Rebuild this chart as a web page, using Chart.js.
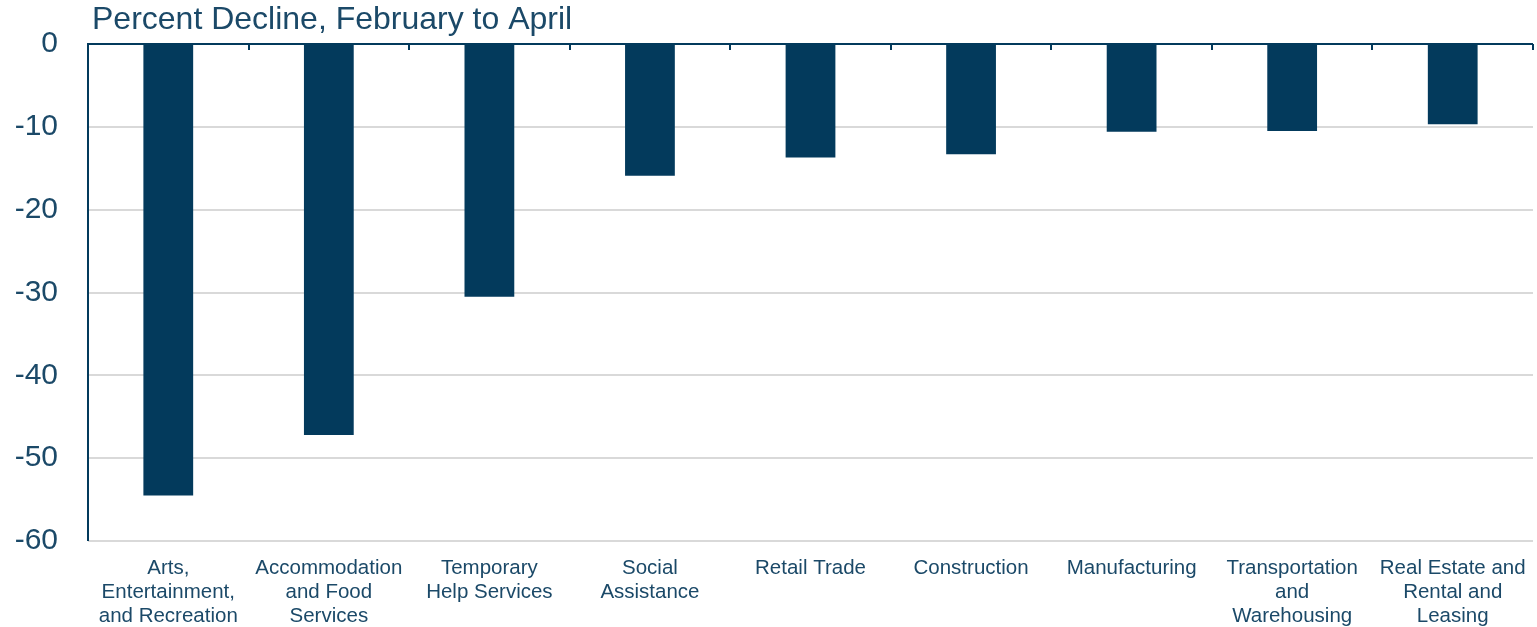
<!DOCTYPE html>
<html><head><meta charset="utf-8">
<script src="https://cdn.jsdelivr.net/npm/chart.js@4/dist/chart.umd.min.js"></script>
<style>html,body{margin:0;padding:0;background:#fff;}#wrap{width:1537px;height:627px;position:relative;}</style>
</head><body><div id="wrap"><canvas id="c"></canvas></div>
<script>
const titleText = 'Percent Decline, February to April';
const categories = [
  ['Arts,', 'Entertainment,', 'and Recreation'],
  ['Accommodation', 'and Food', 'Services'],
  ['Temporary', 'Help Services'],
  ['Social', 'Assistance'],
  ['Retail Trade'],
  ['Construction'],
  ['Manufacturing'],
  ['Transportation', 'and', 'Warehousing'],
  ['Real Estate and', 'Rental and', 'Leasing']
];
const declines = [-54.5, -47.2, -30.5, -15.9, -13.7, -13.3, -10.6, -10.5, -9.7];
const yTicks = [0, -10, -20, -30, -40, -50, -60];

const NAVY = '#033A5C';
const TEXT = '#1B4968';
const FONT = '"Liberation Sans", Arial, sans-serif';

const decor = {
  id: 'decor',
  afterDraw(chart) {
    const ctx = chart.ctx, a = chart.chartArea, x = chart.scales.x, y = chart.scales.y;
    const y0 = y.getPixelForValue(0);
    ctx.save();
    ctx.strokeStyle = NAVY; ctx.lineWidth = 2;
    ctx.beginPath(); ctx.moveTo(a.left, y0); ctx.lineTo(a.right, y0); ctx.stroke();
    for (let i = 0; i <= categories.length; i++) {
      const px = Math.round(x.getPixelForValue(i - 0.5));
      ctx.beginPath(); ctx.moveTo(px, y0); ctx.lineTo(px, y0 + 6); ctx.stroke();
    }
    ctx.beginPath(); ctx.moveTo(a.left, y0 - 1); ctx.lineTo(a.left, a.bottom); ctx.stroke();
    ctx.fillStyle = TEXT;
    ctx.font = '32px ' + FONT;
    ctx.textBaseline = 'middle'; ctx.textAlign = 'left';
    ctx.fillText(titleText, a.left + 4, 20);
    ctx.restore();
  }
};

new Chart(document.getElementById('c'), {
  type: 'bar',
  data: {
    labels: categories,
    datasets: [{ data: declines, backgroundColor: NAVY, borderWidth: 0, barPercentage: 1, categoryPercentage: 0.31 }]
  },
  options: {
    responsive: true, maintainAspectRatio: false, animation: false,
    layout: { padding: { top: 44, right: 4, left: 0, bottom: 0 } },
    plugins: { legend: { display: false }, tooltip: { enabled: false }, title: { display: false } },
    scales: {
      x: {
        afterFit(scale) { scale.height = 86; scale.paddingLeft = 0; scale.paddingRight = 0; },
        grid: { display: false, drawTicks: false },
        border: { display: false },
        ticks: { color: TEXT, font: { family: FONT, size: 20.5, lineHeight: '24px' }, padding: 15, maxRotation: 0, autoSkip: false }
      },
      y: {
        min: -60, max: 0,
        afterFit(scale) { scale.width = 88; scale.paddingTop = 0; scale.paddingBottom = 0; },
        afterBuildTicks(scale) { scale.ticks = yTicks.map(v => ({ value: v })); },
        grid: { color: '#D9D9D9', lineWidth: 2, drawTicks: false },
        border: { display: false },
        ticks: { color: TEXT, font: { family: FONT, size: 30 }, padding: 30 }
      }
    }
  },
  plugins: [decor]
});
</script></body></html>
